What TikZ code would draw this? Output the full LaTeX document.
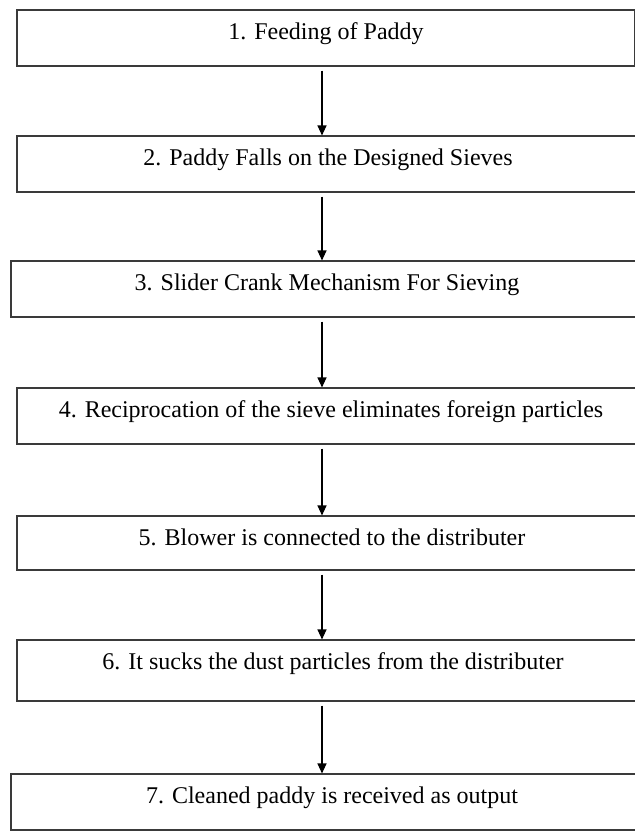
\documentclass[tikz,border=0pt]{standalone}
\usepackage{fontspec}
\setmainfont{Liberation Serif}
\usepackage{tikz}
\usetikzlibrary{arrows.meta,positioning,calc}
\definecolor{boxline}{HTML}{3A3A3A}

\begin{document}
\begin{tikzpicture}[
  x=1pt, y=-1pt,
  font=\fontsize{24}{28}\selectfont,
  >={Triangle[length=10pt,width=9pt]},
  stepbox/.style={
    draw=boxline,
    line width=1.1pt,
    inner sep=0pt,
    text height=29pt,
    text depth=27pt,
    align=center
  },
  flow/.style={->, line width=1.1pt, draw=black}
]

  % page frame
  \useasboundingbox (0,0) rectangle (635,831);
  \clip (0,0) rectangle (635,831);
  \coordinate (axis) at (322,0);

  % Process steps
  \node[stepbox, minimum width=618pt] (s1) at (326, 10+28) {1. Feeding of Paddy};
  \node[stepbox, minimum width=622pt] (s2) at (328, 136+28) {2. Paddy Falls on the Designed Sieves};
  \node[stepbox, minimum width=632pt] (s3) at (327, 261+28) {3. Slider Crank Mechanism For Sieving};
  \node[stepbox, minimum width=628pt] (s4) at (331, 388+28) {4. Reciprocation of the sieve eliminates foreign particles};
  \node[stepbox, minimum width=630pt, text depth=25pt] (s5) at (332, 516+27) {5. Blower is connected to the distributer};
  \node[stepbox, minimum width=632pt, text depth=32pt] (s6) at (333, 640+30.5) {6. It sucks the dust particles from the distributer};
  \node[stepbox, minimum width=642pt] (s7) at (332, 774+28) {7. Cleaned paddy is received as output};

  % Arrows between steps
  \foreach \a/\b in {s1/s2, s2/s3, s3/s4, s4/s5, s5/s6, s6/s7}
    \draw[flow] ($(\a.south -| axis)+(0,4)$) -- (\b.north -| axis);

\end{tikzpicture}
\end{document}
